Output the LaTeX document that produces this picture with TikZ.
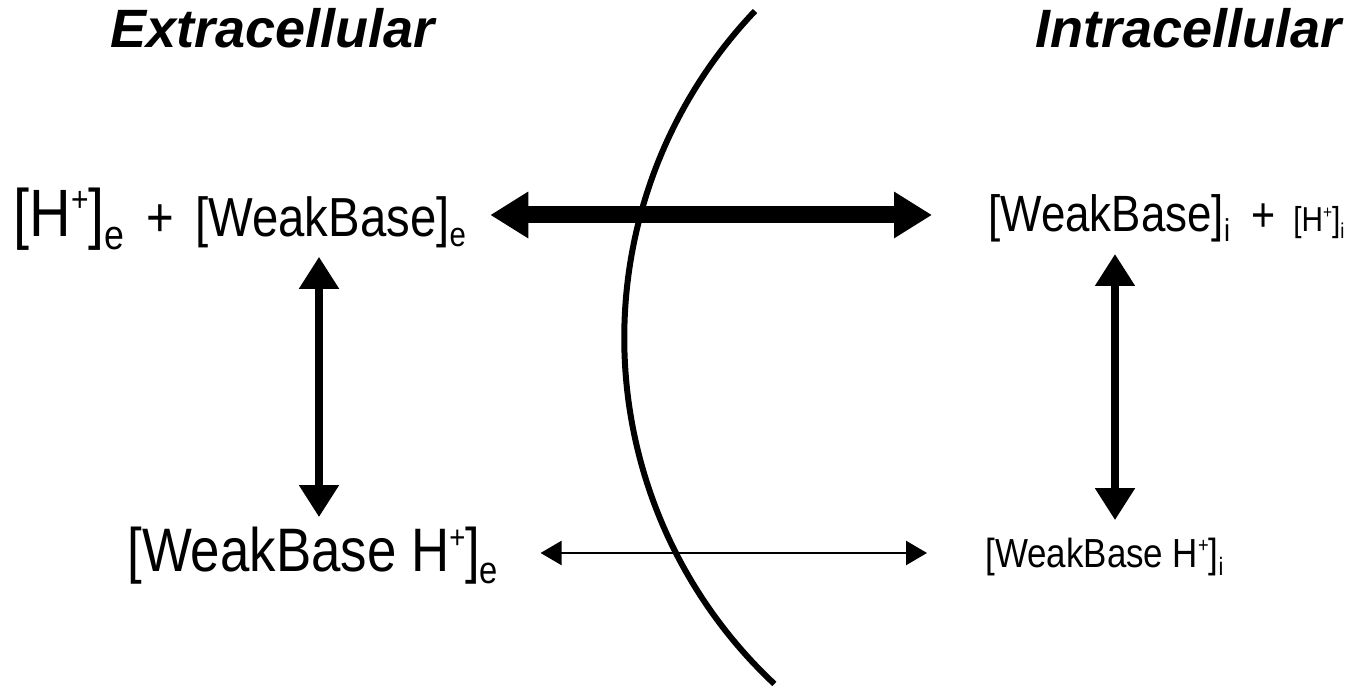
\documentclass[tikz,border=0pt]{standalone}
\usepackage{fontspec}
\setmainfont{Liberation Sans}[FakeStretch=0.86]
\newfontfamily\headfont{Liberation Sans}
\usetikzlibrary{arrows.meta,positioning}

\makeatletter
\newcommand{\chemsize}[1]{\fontsize{#1}{#1}\selectfont}
\newcommand{\chemsub}[1]{\raisebox{-0.18em}{\fontsize{\the\dimexpr\f@size pt*62/100\relax}{0pt}\selectfont #1}}
\newcommand{\chemsup}[1]{\raisebox{0.38em}{\fontsize{\the\dimexpr\f@size pt*52/100\relax}{0pt}\selectfont #1}}
\makeatother

\tikzset{
    chem/.style={inner sep=0pt, anchor=base west},
    heading/.style={inner sep=0pt, anchor=base west, font=\headfont\bfseries\itshape\chemsize{27}},
    bigarrow/.style={line width=8.5pt, {Triangle[length=19pt,width=22pt]}-{Triangle[length=19pt,width=22pt]}},
    midarrow/.style={line width=4pt, {Triangle[length=16pt,width=19pt]}-{Triangle[length=16pt,width=19pt]}},
    thinarrow/.style={line width=1.2pt, {Triangle[length=10.5pt,width=12pt]}-{Triangle[length=10.5pt,width=12pt]}}
}

\begin{document}
\begin{tikzpicture}[x=0.5pt,y=0.5pt]
    \useasboundingbox (0,0) rectangle (1370,688);

    % Headings
    \node[heading] (extra) at (110,640) {Extracellular};
    \node[heading] (intra) at (1035,640) {Intracellular};

    % Membrane
    \draw[line width=3pt] (755,677) arc[start angle=136.4, end angle=226.9, radius=237pt];

    % Extracellular side
    \node[chem, font=\chemsize{33.5}] (hE) at (13,451) {[H\chemsup{+}]\chemsub{e}};
    \node[chem, font=\chemsize{27.5}] (plusE) at (146,451) {+};
    \node[chem, font=\chemsize{27.5}] (wbE) at (195,451) {[WeakBase]\chemsub{e}};
    \node[chem, font=\chemsize{30.7}] (wbhE) at (127,116) {[WeakBase H\chemsup{+}]\chemsub{e}};

    % Intracellular side
    \node[chem, font=\chemsize{25.5}] (wbI) at (988,456) {[WeakBase]\chemsub{i}};
    \node[chem, font=\chemsize{24}] (plusI) at (1251,456) {+};
    \node[chem, font=\chemsize{17.3}] (hI) at (1293,456) {[H\chemsup{+}]\chemsub{i}};
    \node[chem, font=\chemsize{20.3}] (wbhI) at (985,120) {[WeakBase H\chemsup{+}]\chemsub{i}};

    % Equilibria
    \draw[bigarrow, shorten <=12pt, shorten >=28pt] (wbE.east |- 0,473) -- (wbI.west |- 0,473);
    \draw[midarrow, shorten <=4pt, shorten >=5pt] (319,0 |- wbE.south) -- (319,0 |- wbhE.north);
    \draw[midarrow, shorten <=5.5pt, shorten >=9pt] (1115,0 |- wbI.south) -- (1115,0 |- wbhI.north);
    \draw[thinarrow, shorten <=21pt, shorten >=29pt] (wbhE.east |- 0,135) -- (wbhI.west |- 0,135);
\end{tikzpicture}
\end{document}
